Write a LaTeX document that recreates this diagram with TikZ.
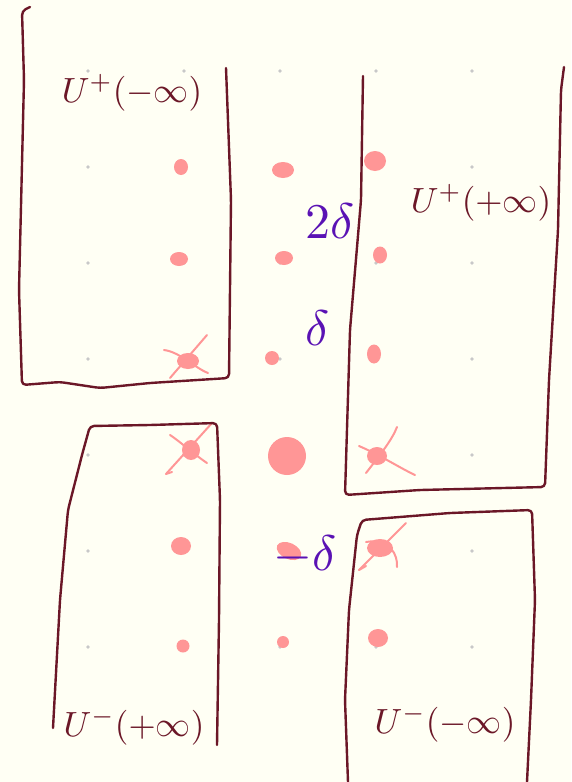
\documentclass[tikz,border=0pt]{standalone}
\begin{document}
\begin{tikzpicture}[x=1pt,y=-1pt,
  boxline/.style={draw=maroon, line width=2.4pt, line join=round, line cap=round, rounded corners=4pt},
  gridpt/.style={fill=gridgray},
  pinkdot/.style={fill=pinkc},
  crossline/.style={draw=pinkc, line width=2pt, line cap=round},
  ulabel/.style={text=maroon, scale=3.5, inner sep=0pt},
  dlabel/.style={text=purplec, scale=5, inner sep=0pt}]
\definecolor{bgc}{HTML}{FFFFF4}
\definecolor{maroon}{HTML}{6B1727}
\definecolor{pinkc}{HTML}{FF9696}
\definecolor{gridgray}{HTML}{C8C8C8}
\definecolor{purplec}{HTML}{5A12B4}
\fill[bgc] (0,0) rectangle (571,782);
\useasboundingbox (0,0) rectangle (571,782);
% grid of gray dots
\foreach \i in {0,...,4} {
  \foreach \j in {0,...,6} {
    \fill[gridpt] (88+96*\i,71+96*\j) circle (1.8);
  }
}
% pink dots, column 1
\fill[pinkdot] (181,167) ellipse (7 and 8);
\fill[pinkdot] (179,259) ellipse (9 and 7);
\fill[pinkdot] (188,361) ellipse (11 and 8);
\fill[pinkdot] (191,450) ellipse (9 and 10);
\fill[pinkdot] (181,546) ellipse (10 and 9);
\fill[pinkdot] (183,646) circle (6.5);
% column 2
\fill[pinkdot] (283,170) ellipse (11 and 8);
\fill[pinkdot] (284,258) ellipse (9 and 7);
\fill[pinkdot] (272,358) circle (7);
\fill[pinkdot] (287,456) ellipse (19 and 19);
\fill[pinkdot, rotate around={-25:(289,551)}] (289,551) ellipse (13 and 8);
\fill[pinkdot] (283,642) circle (6);
% column 3
\fill[pinkdot] (375,161) ellipse (11 and 10);
\fill[pinkdot] (380,255) ellipse (7 and 8.5);
\fill[pinkdot] (374,354) ellipse (7 and 9.5);
\fill[pinkdot] (377,456) ellipse (10 and 9);
\fill[pinkdot] (380,548) ellipse (13 and 9);
\fill[pinkdot] (378,638) ellipse (10 and 9);
% crosses
\draw[crossline] (164,350) .. controls (180,352) and (195,368) .. (208,373);
\draw[crossline] (170,378) -- (207,335);
\draw[crossline] (170,435) .. controls (178,440) and (195,455) .. (207,463);
\draw[crossline] (166,474) -- (212,423);
\draw[crossline] (166,474) -- (172,472);
\draw[crossline] (359,446) .. controls (380,455) and (400,468) .. (415,475);
\draw[crossline] (366,473) .. controls (380,455) and (392,440) .. (397,427);
\draw[crossline] (406,523) -- (359,570);
\draw[crossline] (359,570) -- (366,566);
\draw[crossline] (366,542) .. controls (390,538) and (398,555) .. (397,567);
% boxes
\draw[boxline] (30,7) -- (22,11) -- (24,80) -- (19,290) -- (22,385) -- (60,382) -- (100,388) -- (150,383) -- (229,378) -- (231,200) -- (226,68);
\draw[boxline] (363,76) -- (361,200) -- (350,330) -- (345,495) -- (420,490) -- (545,487) -- (549,380) -- (558,230) -- (561,90) -- (564,67);
\draw[boxline] (217,745) -- (219,620) -- (220,500) -- (217,423) -- (150,425) -- (90,426) -- (82,455) -- (68,510) -- (60,600) -- (53,728);
\draw[boxline] (527,782) -- (531,700) -- (535,600) -- (532,510) -- (450,513) -- (362,520) -- (357,535) -- (349,610) -- (345,700) -- (348,782);
% labels
\node[ulabel] (lab1) at (132,93) {$U^{+}(-\infty)$};
\node[ulabel] (lab2) at (481,203) {$U^{+}(+\infty)$};
\node[ulabel] (lab3) at (134,727) {$U^{-}(+\infty)$};
\node[ulabel] (lab4) at (445,724) {$U^{-}(-\infty)$};
\node[dlabel] (d2) at (330,221) {$2\delta$};
\node[dlabel] (d1) at (318,328) {$\delta$};
\node[dlabel] (dm) at (305,555) {$-\delta$};
\end{tikzpicture}
\end{document}
